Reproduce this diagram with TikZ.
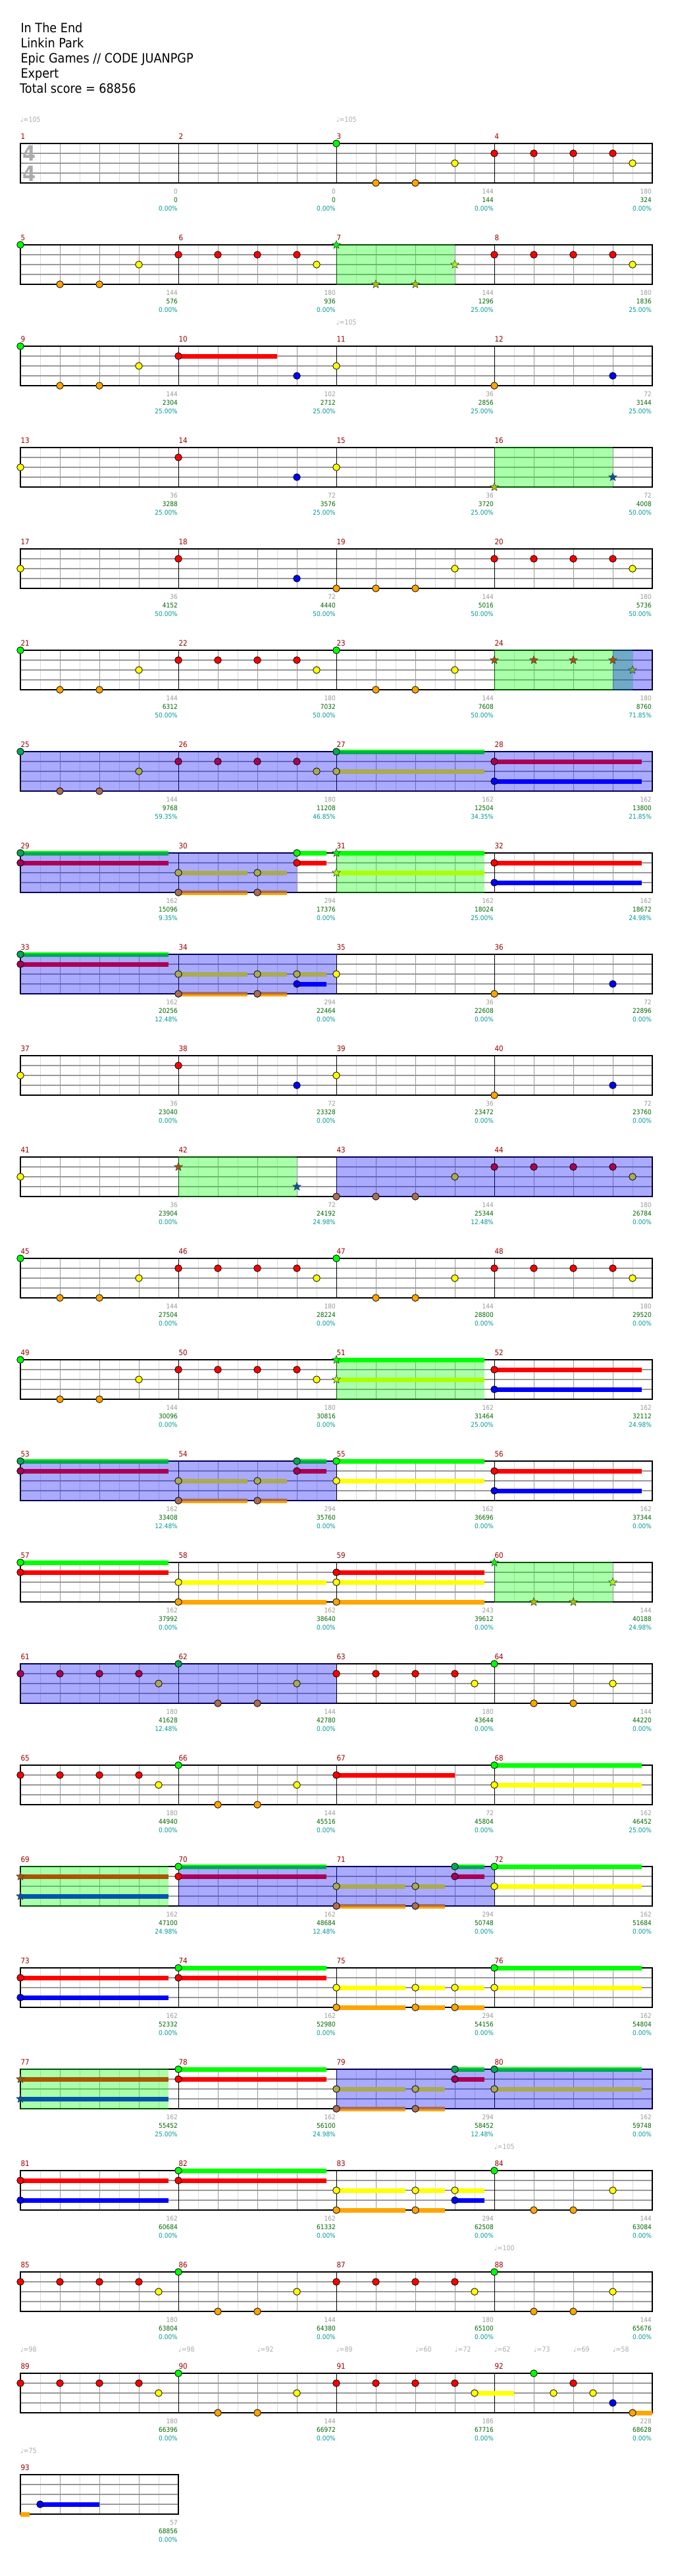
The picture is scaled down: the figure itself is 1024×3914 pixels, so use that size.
\documentclass[tikz,border=0pt]{standalone}
\usepackage{fontspec}
\setmainfont{DejaVu Sans}[FakeStretch=0.9]
\usetikzlibrary{shapes.geometric}
\definecolor{cG}{HTML}{00FF00}\definecolor{cR}{HTML}{FF0000}\definecolor{cY}{HTML}{FFFF00}
\definecolor{cB}{HTML}{0000FF}\definecolor{cO}{HTML}{FFA500}
\definecolor{bG}{HTML}{00AA55}\definecolor{bR}{HTML}{AA0055}\definecolor{bY}{HTML}{AAAA55}
\definecolor{bB}{HTML}{0000FF}\definecolor{bO}{HTML}{AA6E55}
\definecolor{gG}{HTML}{00FF00}\definecolor{gR}{HTML}{AA5500}\definecolor{gY}{HTML}{AAFF00}
\definecolor{gB}{HTML}{0055AA}\definecolor{gO}{HTML}{AAC300}
\definecolor{xY}{HTML}{71AA55}
\definecolor{mnumcol}{HTML}{990000}
\definecolor{labA}{HTML}{9A9A9A}\definecolor{labB}{HTML}{006600}\definecolor{labC}{HTML}{009999}
\definecolor{tmpcol}{HTML}{AAAAAA}
\def\lG{0}\def\lR{1}\def\lY{2}\def\lB{3}\def\lO{4}
\newcounter{nn}
\tikzset{
  note/.style={circle,draw=black,line width=0.8pt,minimum size=10.6pt,inner sep=0pt},
  starnote/.style={star,star points=5,star point ratio=2.3,draw=black!75,line width=0.6pt,minimum size=13pt,inner sep=0pt},
  hbline/.style={draw=black!14,line width=0.8pt},
  btline/.style={draw=black!40,line width=0.9pt},
  hzline/.style={draw=black!40,line width=1.2pt},
  msline/.style={draw=black,line width=0.8pt},
  bdline/.style={draw=black,line width=1.4pt},
  labone/.style={text=labA,font=\fontsize{10}{10}\selectfont,inner sep=0pt,anchor=base east},
  labtwo/.style={text=labB,font=\fontsize{10}{10}\selectfont,inner sep=0pt,anchor=base east},
  labthree/.style={text=labC,font=\fontsize{10}{10}\selectfont,inner sep=0pt,anchor=base east},
  mnum/.style={text=mnumcol,font=\fontsize{11.5}{11.5}\selectfont,inner sep=0pt,anchor=base west},
  tmp/.style={text=tmpcol,font=\fontsize{10.5}{10.5}\selectfont,inner sep=0pt,anchor=base west},
  ttl/.style={font=\fontsize{19.6}{20}\selectfont,inner sep=0pt,anchor=base west},
  tsig/.style={text=black!33,font=\fontsize{32}{32}\selectfont\bfseries,inner sep=0pt}
}
\newcommand\nt[3]{\stepcounter{nn}\node[note,fill=#3#2] (n\thenn) at (#1,\csname l#2\endcsname) {};}
\newcommand\st[3]{\stepcounter{nn}\node[starnote,fill=#3#2] (n\thenn) at (#1,\csname l#2\endcsname) {};}
\newcommand\su[3]{\fill[c#3] ([yshift=3.5pt]#1,\csname l#3\endcsname) rectangle ([yshift=-3.5pt]#2,\csname l#3\endcsname);}
\newcommand\gov[2]{\fill[cG,opacity=0.3333] ([yshift=0.8pt]#1,0) rectangle ([yshift=-0.8pt]#2,4);}
\newcommand\bov[2]{\fill[cB,opacity=0.3333] ([yshift=0.8pt]#1,0) rectangle ([yshift=-0.8pt]#2,4);}
\newcommand\patA[2]{\nt{#1}{G}{#2}\nt{#1+2}{O}{#2}\nt{#1+4}{O}{#2}\nt{#1+6}{Y}{#2}\nt{#1+8}{R}{#2}\nt{#1+10}{R}{#2}\nt{#1+12}{R}{#2}\nt{#1+14}{R}{#2}\nt{#1+15}{Y}{#2}}
\newcommand\patB[2]{\nt{#1}{R}{#2}\nt{#1+2}{R}{#2}\nt{#1+4}{R}{#2}\nt{#1+6}{R}{#2}\nt{#1+7}{Y}{#2}\nt{#1+8}{G}{#2}\nt{#1+10}{O}{#2}\nt{#1+12}{O}{#2}\nt{#1+14}{Y}{#2}}
\newcommand\lab[4]{\stepcounter{nn}%
  \node[labone] (la\thenn) at ([xshift=-1pt,yshift=-16.3pt]#1,4) {#2};
  \node[labtwo] (lb\thenn) at ([xshift=-1pt,yshift=-29.6pt]#1,4) {#3};
  \node[labthree] (lc\thenn) at ([xshift=-1pt,yshift=-42.6pt]#1,4) {#4};}
\newcommand\tempo[2]{\stepcounter{nn}\node[tmp] (tp\thenn) at ([yshift=32.7pt]#1,0) {♩=#2};}
\newcommand\grid[1]{%
  \pgfmathtruncatemacro\gw{#1-1}%
  \foreach \s in {1,3,...,\gw} \draw[hbline] (\s,0) -- (\s,4);
  \foreach \s in {2,4,...,\gw} {\pgfmathtruncatemacro\mm{mod(\s,8)}\ifnum\mm=0 \else \draw[btline] (\s,0) -- (\s,4);\fi}
  \foreach \l in {1,2,3} \draw[hzline] (0,\l) -- (#1,\l);
  \ifnum#1>8 \foreach \s in {8,16,24} \draw[msline] (\s,0) -- (\s,4);\fi
  \draw[bdline] (0,0) rectangle (#1,4);}
\newcommand\mnums[2]{%
  \foreach \k in {1,...,#2} {\pgfmathtruncatemacro\mn{#1+\k-1}\pgfmathsetmacro\mx{8*(\k-1)}%
    \node[mnum] (mn\mn) at ([xshift=0.3pt,yshift=6.3pt]\mx,0) {\mn};}}
\newcommand\R[4]{%
  \begin{scope}[shift={(31,{218+(#1-1)*154})},x=30pt,y=-15pt]
  \pgfmathtruncatemacro\W{8*#3}%
  \grid{\W}
  \mnums{#2}{#3}
  #4
  \end{scope}}
\begin{document}
\begin{tikzpicture}[x=1pt,y=-1pt]
\useasboundingbox (0,0) rectangle (1024,3914);
\fill[white] (0,0) rectangle (1024,3914);
\node[ttl] (t1) at (31.3,49.3) {In The End};
\node[ttl] (t2) at (31.3,72.5) {Linkin Park};
\node[ttl] (t3) at (31.3,95.6) {Epic Games // CODE JUANPGP};
\node[ttl] (t4) at (31.3,118.7) {Expert};
\node[ttl] (t5) at (30,141.8) {Total score = 68856};

\R{1}{1}{4}{%
 \node[tsig] (ts1) at ([xshift=13.7pt,yshift=-15.3pt]0,0) {4};
 \node[tsig] (ts2) at ([xshift=13.7pt,yshift=-46pt]0,0) {4};
 \tempo{0}{105}\tempo{16}{105}
 \patA{16}{c}
 \lab{8}{0}{0}{0.00\%}\lab{16}{0}{0}{0.00\%}\lab{24}{144}{144}{0.00\%}\lab{32}{180}{324}{0.00\%}}

\R{2}{5}{4}{%
 \gov{16}{22}
 \patA{0}{c}
 \st{16}{G}{g}\st{18}{O}{g}\st{20}{O}{g}\st{22}{Y}{g}
 \nt{24}{R}{c}\nt{26}{R}{c}\nt{28}{R}{c}\nt{30}{R}{c}\nt{31}{Y}{c}
 \lab{8}{144}{576}{0.00\%}\lab{16}{180}{936}{0.00\%}\lab{24}{144}{1296}{25.00\%}\lab{32}{180}{1836}{25.00\%}}

\R{3}{9}{4}{%
 \tempo{16}{105}
 \su{8}{13}{R}
 \nt{0}{G}{c}\nt{2}{O}{c}\nt{4}{O}{c}\nt{6}{Y}{c}\nt{8}{R}{c}\nt{14}{B}{c}\nt{16}{Y}{c}\nt{24}{O}{c}\nt{30}{B}{c}
 \lab{8}{144}{2304}{25.00\%}\lab{16}{102}{2712}{25.00\%}\lab{24}{36}{2856}{25.00\%}\lab{32}{72}{3144}{25.00\%}}

\R{4}{13}{4}{%
 \gov{24}{30}
 \nt{0}{Y}{c}\nt{8}{R}{c}\nt{14}{B}{c}\nt{16}{Y}{c}\st{24}{O}{g}\st{30}{B}{g}
 \lab{8}{36}{3288}{25.00\%}\lab{16}{72}{3576}{25.00\%}\lab{24}{36}{3720}{25.00\%}\lab{32}{72}{4008}{50.00\%}}

\R{5}{17}{4}{%
 \nt{0}{Y}{c}\nt{8}{R}{c}\nt{14}{B}{c}\nt{16}{O}{c}\nt{18}{O}{c}\nt{20}{O}{c}\nt{22}{Y}{c}\nt{24}{R}{c}\nt{26}{R}{c}\nt{28}{R}{c}\nt{30}{R}{c}\nt{31}{Y}{c}
 \lab{8}{36}{4152}{50.00\%}\lab{16}{72}{4440}{50.00\%}\lab{24}{144}{5016}{50.00\%}\lab{32}{180}{5736}{50.00\%}}

\R{6}{21}{4}{%
 \gov{24}{31}\bov{30}{32}
 \patA{0}{c}
 \nt{16}{G}{c}\nt{18}{O}{c}\nt{20}{O}{c}\nt{22}{Y}{c}
 \st{24}{R}{g}\st{26}{R}{g}\st{28}{R}{g}\st{30}{R}{g}\st{31}{Y}{x}
 \lab{8}{144}{6312}{50.00\%}\lab{16}{180}{7032}{50.00\%}\lab{24}{144}{7608}{50.00\%}\lab{32}{180}{8760}{71.85\%}}

\R{7}{25}{4}{%
 \su{16}{23.5}{G}\su{16}{23.5}{Y}\su{24}{31.45}{R}\su{24}{31.45}{B}
 \bov{0}{32}
 \patA{0}{b}
 \nt{16}{G}{b}\nt{16}{Y}{b}\nt{24}{R}{b}\nt{24}{B}{b}
 \lab{8}{144}{9768}{59.35\%}\lab{16}{180}{11208}{46.85\%}\lab{24}{162}{12504}{34.35\%}\lab{32}{162}{13800}{21.85\%}}

\R{8}{29}{4}{%
 \su{0}{7.5}{G}\su{0}{7.5}{R}\su{8}{11.5}{Y}\su{8}{11.5}{O}\su{12}{13.5}{Y}\su{12}{13.5}{O}\su{14}{15.5}{G}\su{14}{15.5}{R}\su{16}{23.5}{G}\su{16}{23.5}{Y}\su{24}{31.45}{R}\su{24}{31.45}{B}
 \bov{0}{14}\gov{16}{23.5}
 \nt{0}{G}{b}\nt{0}{R}{b}\nt{8}{Y}{b}\nt{8}{O}{b}\nt{12}{Y}{b}\nt{12}{O}{b}\nt{14}{G}{c}\nt{14}{R}{c}\st{16}{G}{g}\st{16}{Y}{g}\nt{24}{R}{c}\nt{24}{B}{c}
 \lab{8}{162}{15096}{9.35\%}\lab{16}{294}{17376}{0.00\%}\lab{24}{162}{18024}{25.00\%}\lab{32}{162}{18672}{24.98\%}}

\R{9}{33}{4}{%
 \su{0}{7.5}{G}\su{0}{7.5}{R}\su{8}{11.5}{Y}\su{8}{11.5}{O}\su{12}{13.5}{Y}\su{12}{13.5}{O}\su{14}{15.5}{Y}\su{14}{15.5}{B}
 \bov{0}{16}
 \nt{0}{G}{b}\nt{0}{R}{b}\nt{8}{Y}{b}\nt{8}{O}{b}\nt{12}{Y}{b}\nt{12}{O}{b}\nt{14}{Y}{b}\nt{14}{B}{b}\nt{16}{Y}{c}\nt{24}{O}{c}\nt{30}{B}{c}
 \lab{8}{162}{20256}{12.48\%}\lab{16}{294}{22464}{0.00\%}\lab{24}{36}{22608}{0.00\%}\lab{32}{72}{22896}{0.00\%}}

\R{10}{37}{4}{%
 \nt{0}{Y}{c}\nt{8}{R}{c}\nt{14}{B}{c}\nt{16}{Y}{c}\nt{24}{O}{c}\nt{30}{B}{c}
 \lab{8}{36}{23040}{0.00\%}\lab{16}{72}{23328}{0.00\%}\lab{24}{36}{23472}{0.00\%}\lab{32}{72}{23760}{0.00\%}}

\R{11}{41}{4}{%
 \gov{8}{14}\bov{16}{32}
 \nt{0}{Y}{c}\st{8}{R}{g}\st{14}{B}{g}
 \nt{16}{O}{b}\nt{18}{O}{b}\nt{20}{O}{b}\nt{22}{Y}{b}\nt{24}{R}{b}\nt{26}{R}{b}\nt{28}{R}{b}\nt{30}{R}{b}\nt{31}{Y}{b}
 \lab{8}{36}{23904}{0.00\%}\lab{16}{72}{24192}{24.98\%}\lab{24}{144}{25344}{12.48\%}\lab{32}{180}{26784}{0.00\%}}

\R{12}{45}{4}{%
 \patA{0}{c}\patA{16}{c}
 \lab{8}{144}{27504}{0.00\%}\lab{16}{180}{28224}{0.00\%}\lab{24}{144}{28800}{0.00\%}\lab{32}{180}{29520}{0.00\%}}

\R{13}{49}{4}{%
 \su{16}{23.5}{G}\su{16}{23.5}{Y}\su{24}{31.45}{R}\su{24}{31.45}{B}
 \gov{16}{23.5}
 \patA{0}{c}\st{16}{G}{g}\st{16}{Y}{g}\nt{24}{R}{c}\nt{24}{B}{c}
 \lab{8}{144}{30096}{0.00\%}\lab{16}{180}{30816}{0.00\%}\lab{24}{162}{31464}{25.00\%}\lab{32}{162}{32112}{24.98\%}}

\R{14}{53}{4}{%
 \su{0}{7.5}{G}\su{0}{7.5}{R}\su{8}{11.5}{Y}\su{8}{11.5}{O}\su{12}{13.5}{Y}\su{12}{13.5}{O}\su{14}{15.5}{G}\su{14}{15.5}{R}\su{16}{23.5}{G}\su{16}{23.5}{Y}\su{24}{31.45}{R}\su{24}{31.45}{B}
 \bov{0}{16}
 \nt{0}{G}{b}\nt{0}{R}{b}\nt{8}{Y}{b}\nt{8}{O}{b}\nt{12}{Y}{b}\nt{12}{O}{b}\nt{14}{G}{b}\nt{14}{R}{b}\nt{16}{G}{c}\nt{16}{Y}{c}\nt{24}{R}{c}\nt{24}{B}{c}
 \lab{8}{162}{33408}{12.48\%}\lab{16}{294}{35760}{0.00\%}\lab{24}{162}{36696}{0.00\%}\lab{32}{162}{37344}{0.00\%}}

\R{15}{57}{4}{%
 \su{0}{7.5}{G}\su{0}{7.5}{R}\su{8}{15.5}{Y}\su{8}{15.5}{O}\su{16}{23.5}{R}\su{16}{23.5}{Y}\su{16}{23.5}{O}
 \gov{24}{30}
 \nt{0}{G}{c}\nt{0}{R}{c}\nt{8}{Y}{c}\nt{8}{O}{c}\nt{16}{R}{c}\nt{16}{Y}{c}\nt{16}{O}{c}\st{24}{G}{g}\st{26}{O}{g}\st{28}{O}{g}\st{30}{Y}{g}
 \lab{8}{162}{37992}{0.00\%}\lab{16}{162}{38640}{0.00\%}\lab{24}{243}{39612}{0.00\%}\lab{32}{144}{40188}{24.98\%}}

\R{16}{61}{4}{%
 \bov{0}{16}
 \patB{0}{b}\patB{16}{c}
 \lab{8}{180}{41628}{12.48\%}\lab{16}{144}{42780}{0.00\%}\lab{24}{180}{43644}{0.00\%}\lab{32}{144}{44220}{0.00\%}}

\R{17}{65}{4}{%
 \su{16}{22}{R}\su{24}{31.45}{G}\su{24}{31.45}{Y}
 \patB{0}{c}\nt{16}{R}{c}\nt{24}{G}{c}\nt{24}{Y}{c}
 \lab{8}{180}{44940}{0.00\%}\lab{16}{144}{45516}{0.00\%}\lab{24}{72}{45804}{0.00\%}\lab{32}{162}{46452}{25.00\%}}

\R{18}{69}{4}{%
 \su{0}{7.5}{R}\su{0}{7.5}{B}\su{8}{15.5}{G}\su{8}{15.5}{R}\su{16}{19.5}{Y}\su{16}{19.5}{O}\su{20}{21.5}{Y}\su{20}{21.5}{O}\su{22}{23.5}{G}\su{22}{23.5}{R}\su{24}{31.45}{G}\su{24}{31.45}{Y}
 \gov{0}{7.5}\bov{8}{24}
 \st{0}{R}{g}\st{0}{B}{g}\nt{8}{G}{c}\nt{8}{R}{c}\nt{16}{Y}{b}\nt{16}{O}{b}\nt{20}{Y}{b}\nt{20}{O}{b}\nt{22}{G}{b}\nt{22}{R}{b}\nt{24}{G}{c}\nt{24}{Y}{c}
 \lab{8}{162}{47100}{24.98\%}\lab{16}{162}{48684}{12.48\%}\lab{24}{294}{50748}{0.00\%}\lab{32}{162}{51684}{0.00\%}}

\R{19}{73}{4}{%
 \su{0}{7.5}{R}\su{0}{7.5}{B}\su{8}{15.5}{G}\su{8}{15.5}{R}\su{16}{19.5}{Y}\su{16}{19.5}{O}\su{20}{21.5}{Y}\su{20}{21.5}{O}\su{22}{23.5}{Y}\su{22}{23.5}{O}\su{24}{31.45}{G}\su{24}{31.45}{Y}
 \nt{0}{R}{c}\nt{0}{B}{c}\nt{8}{G}{c}\nt{8}{R}{c}\nt{16}{Y}{c}\nt{16}{O}{c}\nt{20}{Y}{c}\nt{20}{O}{c}\nt{22}{Y}{c}\nt{22}{O}{c}\nt{24}{G}{c}\nt{24}{Y}{c}
 \lab{8}{162}{52332}{0.00\%}\lab{16}{162}{52980}{0.00\%}\lab{24}{294}{54156}{0.00\%}\lab{32}{162}{54804}{0.00\%}}

\R{20}{77}{4}{%
 \su{0}{7.5}{R}\su{0}{7.5}{B}\su{8}{15.5}{G}\su{8}{15.5}{R}\su{16}{19.5}{Y}\su{16}{19.5}{O}\su{20}{21.5}{Y}\su{20}{21.5}{O}\su{22}{23.5}{G}\su{22}{23.5}{R}\su{24}{31.45}{G}\su{24}{31.45}{Y}
 \gov{0}{7.5}\bov{16}{32}
 \st{0}{R}{g}\st{0}{B}{g}\nt{8}{G}{c}\nt{8}{R}{c}\nt{16}{Y}{b}\nt{16}{O}{b}\nt{20}{Y}{b}\nt{20}{O}{b}\nt{22}{G}{b}\nt{22}{R}{b}\nt{24}{G}{b}\nt{24}{Y}{b}
 \lab{8}{162}{55452}{25.00\%}\lab{16}{162}{56100}{24.98\%}\lab{24}{294}{58452}{12.48\%}\lab{32}{162}{59748}{0.00\%}}

\R{21}{81}{4}{%
 \tempo{24}{105}
 \su{0}{7.5}{R}\su{0}{7.5}{B}\su{8}{15.5}{G}\su{8}{15.5}{R}\su{16}{19.5}{Y}\su{16}{19.5}{O}\su{20}{21.5}{Y}\su{20}{21.5}{O}\su{22}{23.5}{Y}\su{22}{23.5}{B}
 \nt{0}{R}{c}\nt{0}{B}{c}\nt{8}{G}{c}\nt{8}{R}{c}\nt{16}{Y}{c}\nt{16}{O}{c}\nt{20}{Y}{c}\nt{20}{O}{c}\nt{22}{Y}{c}\nt{22}{B}{c}\nt{24}{G}{c}\nt{26}{O}{c}\nt{28}{O}{c}\nt{30}{Y}{c}
 \lab{8}{162}{60684}{0.00\%}\lab{16}{162}{61332}{0.00\%}\lab{24}{294}{62508}{0.00\%}\lab{32}{144}{63084}{0.00\%}}

\R{22}{85}{4}{%
 \tempo{24}{100}
 \patB{0}{c}\patB{16}{c}
 \lab{8}{180}{63804}{0.00\%}\lab{16}{144}{64380}{0.00\%}\lab{24}{180}{65100}{0.00\%}\lab{32}{144}{65676}{0.00\%}}

\R{23}{89}{4}{%
 \tempo{0}{98}\tempo{8}{98}\tempo{12}{92}\tempo{16}{89}\tempo{20}{60}\tempo{22}{72}\tempo{24}{62}\tempo{26}{73}\tempo{28}{69}\tempo{30}{58}
 \su{23}{25}{Y}\su{31}{32}{O}
 \patB{0}{c}\nt{16}{R}{c}\nt{18}{R}{c}\nt{20}{R}{c}\nt{22}{R}{c}\nt{23}{Y}{c}\nt{26}{G}{c}\nt{27}{Y}{c}\nt{28}{R}{c}\nt{29}{Y}{c}\nt{30}{B}{c}\nt{31}{O}{c}
 \lab{8}{180}{66396}{0.00\%}\lab{16}{144}{66972}{0.00\%}\lab{24}{186}{67716}{0.00\%}\lab{32}{228}{68628}{0.00\%}}

\R{24}{93}{1}{%
 \tempo{0}{75}
 \su{0}{0.47}{O}\su{1}{4}{B}
 \nt{1}{B}{c}
 \lab{8}{57}{68856}{0.00\%}}
\end{tikzpicture}
\end{document}
